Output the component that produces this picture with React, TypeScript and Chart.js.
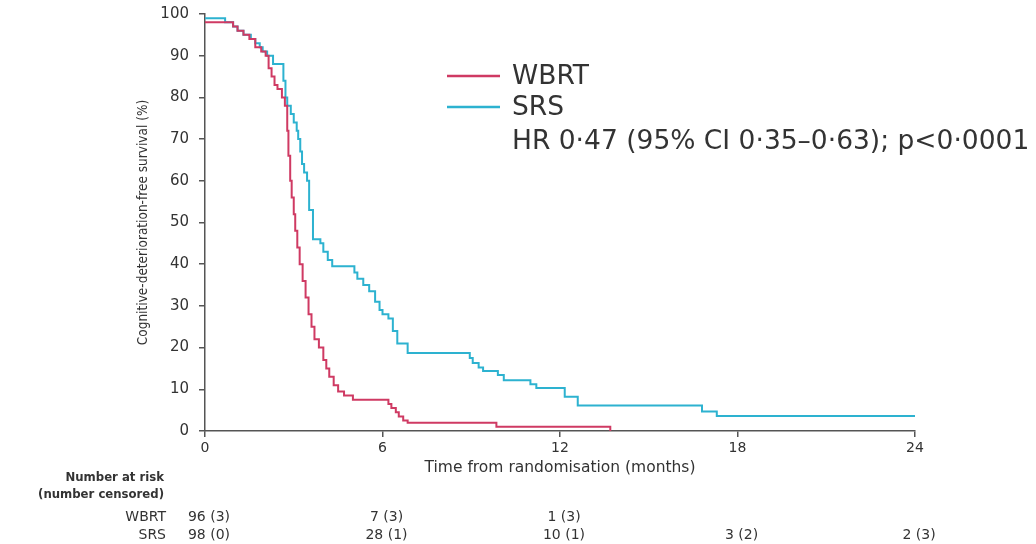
import { useEffect, useRef } from "react";
import { Chart, registerables } from "chart.js";

Chart.register(...registerables);

// Kaplan–Meier step data (months, % cognitive-deterioration-free)
const wbrtTimes = [0, 0.95, 1.1, 1.3, 1.5, 1.7, 1.9, 2.05, 2.15, 2.25, 2.35, 2.45, 2.6, 2.7, 2.78, 2.82, 2.88, 2.93, 3.0, 3.05, 3.12, 3.2, 3.3, 3.4, 3.5, 3.6, 3.7, 3.85, 4.0, 4.1, 4.2, 4.35, 4.5, 4.7, 5.0, 6.2, 6.3, 6.45, 6.55, 6.7, 6.85, 9.85, 13.7];
const wbrtSurv = [98, 97, 96, 95, 94, 92, 91, 90, 87, 85, 83, 82, 80, 78, 72, 66, 60, 56, 52, 48, 44, 40, 36, 32, 28, 25, 22, 20, 17, 15, 13, 11, 9.5, 8.5, 7.5, 6.5, 5.5, 4.5, 3.5, 2.5, 2, 1, 0];

const srsTimes = [0, 0.68, 0.95, 1.1, 1.3, 1.55, 1.7, 1.85, 1.95, 2.1, 2.3, 2.65, 2.72, 2.78, 2.9, 3.0, 3.1, 3.15, 3.22, 3.28, 3.35, 3.45, 3.52, 3.65, 3.9, 4.0, 4.15, 4.3, 5.05, 5.15, 5.35, 5.55, 5.75, 5.9, 6.0, 6.2, 6.35, 6.5, 6.85, 8.95, 9.05, 9.25, 9.4, 9.9, 10.1, 11.0, 11.2, 12.16, 12.6, 16.8, 17.3, 24];
const srsSurv = [99, 98, 97, 96, 95, 94, 93, 92, 91, 90, 88, 84, 80, 78, 76, 74, 72, 70, 67, 64, 62, 60, 53, 46, 45, 43, 41, 39.5, 38, 36.5, 35, 33.5, 31, 29, 28, 27, 24, 21, 18.7, 17.5, 16.3, 15.2, 14.4, 13.4, 12.2, 11.2, 10.3, 8.2, 6.1, 4.7, 3.6, 3.6];

const seriesNames = ["WBRT", "SRS"];
const hrText = "HR 0·47 (95% CI 0·35–0·63); p<0·0001";

const xTickValues = [0, 6, 12, 18, 24];
const atRiskWBRT = ["96 (3)", "7 (3)", "1 (3)"];
const atRiskSRS = ["98 (0)", "28 (1)", "10 (1)", "3 (2)", "2 (3)"];
const atRiskHeader = ["Number at risk", "(number censored)"];

const yTitle = "Cognitive-deterioration-free survival (%)";
const xTitle = "Time from randomisation (months)";

const WBRT_COLOR = "#cf3a63";
const SRS_COLOR = "#2db2d0";
const TEXT = "#333333";
const AXIS = "#555555";

export default function App() {
  const ref = useRef<HTMLCanvasElement>(null);

  useEffect(() => {
    document.body.style.margin = "0";
    const canvas = ref.current;
    if (!canvas) return;

    const overlay = {
      id: "overlay",
      afterDraw(chart: any) {
        const ctx = chart.ctx as CanvasRenderingContext2D;
        const xs = chart.scales.x;
        ctx.save();
        // legend
        const colors = [WBRT_COLOR, SRS_COLOR];
        const rows = [76, 107];
        ctx.lineWidth = 2.5;
        colors.forEach((c, i) => {
          ctx.strokeStyle = c;
          ctx.beginPath();
          ctx.moveTo(447, rows[i]);
          ctx.lineTo(500, rows[i]);
          ctx.stroke();
        });
        ctx.fillStyle = TEXT;
        ctx.font = "26.5px 'DejaVu Sans'";
        ctx.textAlign = "left";
        ctx.textBaseline = "middle";
        ctx.fillText(seriesNames[0], 512, rows[0] + 1);
        ctx.fillText(seriesNames[1], 512, rows[1] + 1);
        ctx.fillText(hrText, 512, 142);

        // number at risk table
        ctx.textAlign = "right";
        ctx.font = "bold 13px 'DejaVu Sans Condensed', 'DejaVu Sans'";
        ctx.fillText(atRiskHeader[0], 164, 478);
        ctx.fillText(atRiskHeader[1], 164, 495);
        ctx.font = "14px 'DejaVu Sans'";
        ctx.fillText(seriesNames[0], 166, 517);
        ctx.fillText(seriesNames[1], 166, 535);
        ctx.textAlign = "center";
        atRiskWBRT.forEach((t, i) => {
          ctx.fillText(t, xs.getPixelForValue(xTickValues[i]) + 4, 517);
        });
        atRiskSRS.forEach((t, i) => {
          ctx.fillText(t, xs.getPixelForValue(xTickValues[i]) + 4, 535);
        });
        ctx.restore();
      },
    };

    const chart = new Chart(canvas, {
      type: "line",
      data: {
        datasets: [
          {
            label: seriesNames[0],
            data: wbrtTimes.map((t, i) => ({ x: t, y: wbrtSurv[i] })),
            borderColor: WBRT_COLOR,
            borderWidth: 2,
            pointRadius: 0,
            stepped: "before",
            fill: false,
          },
          {
            label: seriesNames[1],
            data: srsTimes.map((t, i) => ({ x: t, y: srsSurv[i] })),
            borderColor: SRS_COLOR,
            borderWidth: 2,
            pointRadius: 0,
            stepped: "before",
            fill: false,
          },
        ],
      },
      options: {
        responsive: false,
        animation: false,
        layout: { padding: { left: 0, right: 121, top: 14, bottom: 0 } },
        plugins: { legend: { display: false }, tooltip: { enabled: false } },
        scales: {
          x: {
            type: "linear",
            min: 0,
            max: 24,
            afterFit(scale: any) {
              scale.height = 113;
            },
            afterBuildTicks(scale: any) {
              scale.ticks = xTickValues.map((v) => ({ value: v }));
            },
            ticks: {
              color: TEXT,
              font: { family: "'DejaVu Sans'", size: 14 },
              padding: 3,
              maxRotation: 0,
            },
            grid: {
              drawOnChartArea: false,
              drawTicks: true,
              tickLength: 6,
              color: AXIS,
              lineWidth: 1.5,
            },
            border: { color: AXIS, width: 1.5 },
            title: {
              display: true,
              text: xTitle,
              color: TEXT,
              font: { family: "'DejaVu Sans'", size: 15.5 },
              padding: { top: 0, bottom: 67 },
            },
          },
          y: {
            type: "linear",
            min: 0,
            max: 100,
            afterFit(scale: any) {
              scale.width = 205;
              scale.paddingTop = 0;
              scale.paddingBottom = 0;
            },
            ticks: {
              stepSize: 10,
              color: TEXT,
              font: { family: "'DejaVu Sans'", size: 15 },
              padding: 10,
            },
            grid: {
              drawOnChartArea: false,
              drawTicks: true,
              tickLength: 6,
              color: AXIS,
              lineWidth: 1.5,
            },
            border: { color: AXIS, width: 1.5 },
            title: {
              display: true,
              text: yTitle,
              color: TEXT,
              font: { family: "'DejaVu Sans Condensed', 'DejaVu Sans'", size: 13.5 },
              padding: { top: 135, bottom: 0 },
            },
          },
        },
      },
      plugins: [overlay],
    });

    return () => chart.destroy();
  }, []);

  return (
    <div style={{ width: 1036, height: 544 }}>
      <canvas ref={ref} width={1036} height={544} style={{ display: "block" }} />
    </div>
  );
}
